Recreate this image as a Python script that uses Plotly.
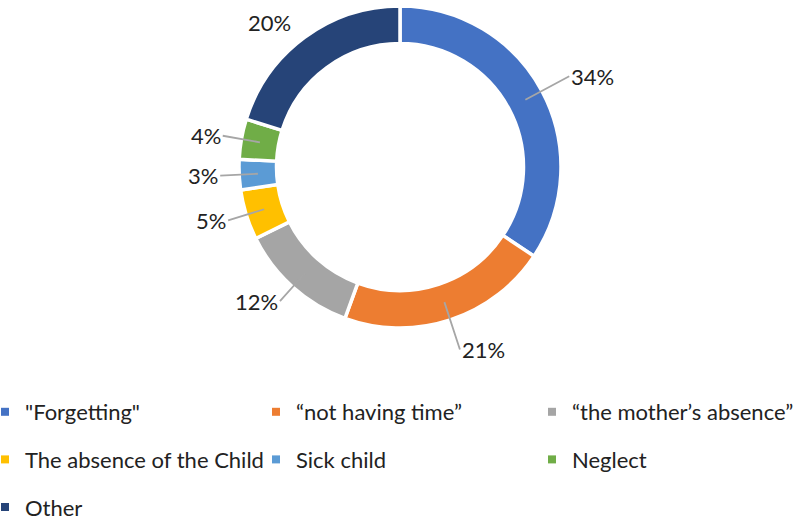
import math
import plotly.graph_objects as go

# ---- data ----
categories = ['"Forgetting"', '“not having time”', '“the mother’s absence”',
              'The absence of the Child', 'Sick child', 'Neglect', 'Other']
values = [34, 21, 12, 5, 3, 4, 20]
colors = ['#4472C4', '#ED7D31', '#A5A5A5', '#FFC000', '#5B9BD5', '#70AD47', '#264478']
legend_col = [0, 1, 2, 0, 1, 2, 0]
show_leader = [True, True, True, True, True, True, False]

W, H = 797, 523
FONT = 'Lato'
FS = 22
TXT = '#222222'

# pie geometry (pixels)
cx, cy, R = 400, 167, 161
hole = 0.767
r_mid = R * (1 + hole) / 2
r_lab_right = 192   # label anchor radius for labels right of centre
r_lab_left = 180    # label anchor radius for labels left of centre

dom_x = [(cx - R) / W, (cx + R) / W]
dom_y = [1 - (cy + R) / H, 1 - (cy - R) / H]

fig = go.Figure()
fig.add_trace(go.Pie(
    labels=categories, values=values, hole=hole, sort=False,
    direction='clockwise', rotation=0, textinfo='none',
    marker=dict(colors=colors, line=dict(color='white', width=3.5)),
    domain=dict(x=dom_x, y=dom_y), showlegend=False, hoverinfo='label+percent'))

# legend entries (one legend per column)
legend_names = ['legend', 'legend2', 'legend3']
for i, (name, col, c) in enumerate(zip(categories, colors, legend_col)):
    fig.add_trace(go.Scatter(
        x=[None], y=[None], mode='markers', name=name,
        marker=dict(symbol='square', size=8, color=col),
        legend=legend_names[c], legendgroup=f'g{i}', showlegend=True,
        hoverinfo='skip'))

# percentage labels with leader lines
total = sum(values)
annotations = []
cum = 0
for v, show in zip(values, show_leader):
    mid = (cum + v / 2) / total * 2 * math.pi
    cum += v
    s, c = math.sin(mid), math.cos(mid)
    r_lab = r_lab_right if s > 0 else r_lab_left
    tip_x, tip_y = cx + r_mid * s, cy - r_mid * c
    lab_x, lab_y = cx + r_lab * s, cy - r_lab * c
    pct = f"{round(v / total * 100)}%"
    anchor = 'left' if s > 0 else 'right'
    if show:
        annotations.append(dict(
            x=tip_x / W, y=1 - tip_y / H, xref='paper', yref='paper',
            ax=lab_x - tip_x, ay=lab_y - tip_y,
            text=pct, showarrow=True, arrowhead=0, arrowwidth=1.8,
            arrowcolor='#A6A6A6', standoff=0, startstandoff=0,
            xanchor=anchor, yanchor='middle',
            font=dict(family=FONT, size=FS, color=TXT)))
    else:
        annotations.append(dict(
            x=lab_x / W, y=1 - lab_y / H,
            xref='paper', yref='paper', text=pct, showarrow=False,
            xanchor=anchor, yanchor='middle',
            font=dict(family=FONT, size=FS, color=TXT)))

# legend column placement (symbol centre x in px) and first-row top
col_sym_x = [5, 276, 552]
SYM_OFF = 20
leg_top = 391

def leg(xpx):
    return dict(orientation='v', x=(xpx - SYM_OFF) / W, xanchor='left',
                y=1 - leg_top / H, yanchor='top',
                traceorder='grouped', tracegroupgap=16,
                font=dict(family=FONT, size=FS, color=TXT),
                bgcolor='rgba(0,0,0,0)', itemclick=False, itemdoubleclick=False)

fig.update_layout(
    width=W, height=H,
    margin=dict(l=0, r=0, t=0, b=0, autoexpand=False),
    paper_bgcolor='white', plot_bgcolor='white',
    xaxis=dict(visible=False), yaxis=dict(visible=False),
    annotations=annotations,
    legend=leg(col_sym_x[0]),
    legend2=leg(col_sym_x[1]),
    legend3=leg(col_sym_x[2]),
)

fig.write_html('out.html', config={'displayModeBar': False},
               post_script="document.body.style.margin='0';")
